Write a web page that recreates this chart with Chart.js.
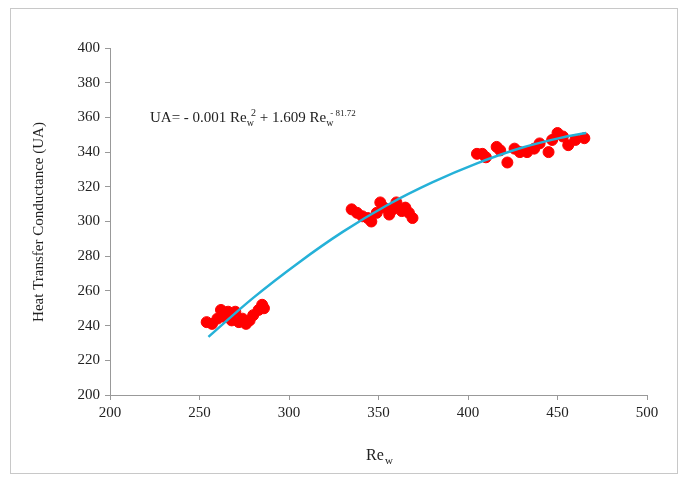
<!DOCTYPE html>
<html>
<head>
<meta charset="utf-8">
<script src="https://cdn.jsdelivr.net/npm/chart.js@4/dist/chart.umd.min.js"></script>
<style>
  html, body { margin: 0; padding: 0; background: #fff; }
  #wrap { width: 682px; height: 481px; position: relative; }
</style>
</head>
<body>
<div id="wrap"><canvas id="c" width="682" height="481"></canvas></div>
<script>
// measured points (Re_w, UA)
const reW = [254, 257, 260, 262, 264, 266, 268, 270, 272, 274, 276, 278, 280, 283, 285, 286,
  335, 338, 341, 344, 346, 349, 351, 353, 356, 358, 360, 363, 365, 367, 369,
  405, 408, 410, 416, 418, 422, 426, 429, 433, 437, 440, 445, 447, 450, 453, 456, 460, 465];
const uaVals = [242, 241, 244, 249, 245, 248, 243, 248, 242, 244, 241, 243, 246, 249, 252, 250,
  307, 305, 303, 302, 300, 305, 311, 308, 304, 307, 311, 306, 308, 305, 302,
  339, 339, 337, 343, 341, 334, 342, 340, 340, 342, 345, 340, 347, 351, 349, 344, 347, 348];

// fitted curve
const fitX = [255, 280, 305, 330, 355, 380, 405, 430, 455, 466];
const fitY = [233.5, 256, 276, 294, 309.5, 322.5, 333.5, 342.5, 349, 351];

const xTicks = [200, 250, 300, 350, 400, 450, 500];
const yTicks = [200, 220, 240, 260, 280, 300, 320, 340, 360, 380, 400];

const serif = "'Liberation Serif', 'DejaVu Serif', serif";

const textPlugin = {
  id: "texts",
  afterDraw(chart) {
    const ctx = chart.ctx;
    ctx.save();
    // frame
    ctx.strokeStyle = "#c8c8c8";
    ctx.lineWidth = 1;
    ctx.strokeRect(10.5, 8.5, 667, 465);
    ctx.fillStyle = "#222";
    ctx.textBaseline = "alphabetic";
    // y title
    ctx.save();
    ctx.translate(43, 222);
    ctx.rotate(-Math.PI / 2);
    ctx.font = "15px " + serif;
    ctx.textAlign = "center";
    ctx.fillText("Heat Transfer Conductance (UA)", 0, 0);
    ctx.restore();
    // x title Re_w
    ctx.textAlign = "left";
    ctx.font = "16px " + serif;
    ctx.fillText("Re", 366, 460);
    ctx.font = "11px " + serif;
    ctx.fillText("w", 385, 464);
    // equation
    let x = 150;
    const y = 122;
    const part = (t, size, dy) => {
      ctx.font = size + "px " + serif;
      ctx.fillText(t, x, y + dy);
      x += ctx.measureText(t).width;
    };
    part("UA= - 0.001 Re", 15, 0);
    part("w", 10, 4);
    x -= 3;
    part("2", 10, -6);
    part(" + 1.609 Re", 15, 0);
    part("w", 10, 4);
    x -= 3;
    part("- 81.72", 9, -6);
    ctx.restore();
  }
};

new Chart(document.getElementById("c"), {
  type: "scatter",
  data: {
    datasets: [
      {
        label: "fit",
        type: "line",
        data: fitX.map((v, i) => ({ x: v, y: fitY[i] })),
        borderColor: "#25b1d8",
        borderWidth: 2.5,
        pointRadius: 0,
        tension: 0.4,
        fill: false,
        order: 0
      },
      {
        label: "data",
        data: reW.map((v, i) => ({ x: v, y: uaVals[i] })),
        backgroundColor: "#ff0000",
        borderColor: "#ff0000",
        pointRadius: 5.5,
        pointHoverRadius: 5.5,
        order: 1
      }
    ]
  },
  options: {
    responsive: false,
    animation: false,
    layout: { padding: { top: 48, right: 35, left: 0, bottom: 0 } },
    plugins: { legend: { display: false }, tooltip: { enabled: false } },
    scales: {
      x: {
        type: "linear",
        min: 200,
        max: 500,
        afterBuildTicks: (s) => { s.ticks = xTicks.map((v) => ({ value: v })); },
        afterFit: (s) => { s.height = 86; },
        grid: { drawOnChartArea: false, drawTicks: true, tickLength: 5, color: "#999" },
        border: { color: "#999", width: 1 },
        ticks: { color: "#222", font: { family: serif, size: 15 }, padding: 4 }
      },
      y: {
        type: "linear",
        min: 200,
        max: 400,
        afterBuildTicks: (s) => { s.ticks = yTicks.map((v) => ({ value: v })); },
        afterFit: (s) => { s.width = 110; },
        grid: { drawOnChartArea: false, drawTicks: true, tickLength: 5, color: "#999" },
        border: { color: "#999", width: 1 },
        ticks: { color: "#222", font: { family: serif, size: 15 }, padding: 5 }
      }
    }
  },
  plugins: [textPlugin]
});
</script>
</body>
</html>
